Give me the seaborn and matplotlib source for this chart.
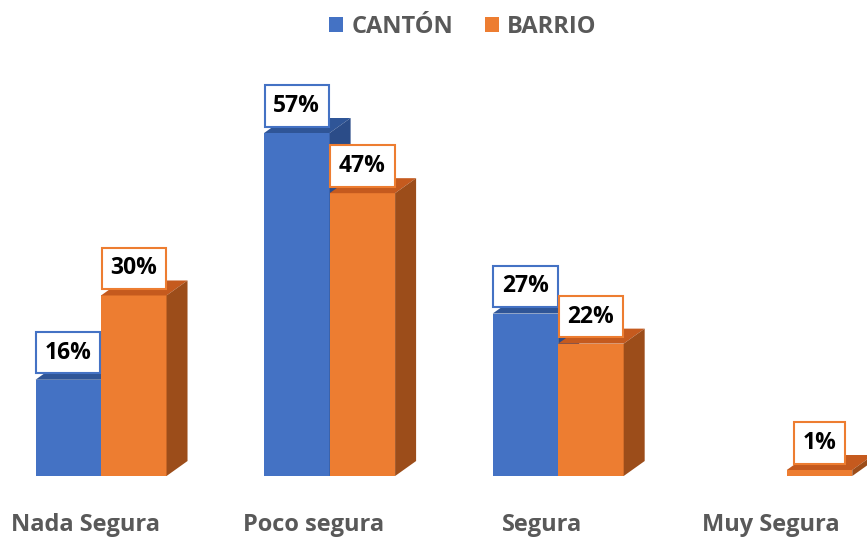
import matplotlib
matplotlib.use("Agg")
import matplotlib.pyplot as plt
import seaborn as sns
import pandas as pd
from matplotlib.patches import Polygon

categories = ["Nada Segura", "Poco segura", "Segura", "Muy Segura"]
canton = [16, 57, 27, 0]
barrio = [30, 47, 22, 1]
series_names = ["CANTÓN", "BARRIO"]

front = {"CANTÓN": "#4472C4", "BARRIO": "#ED7D31"}
top_c = {"CANTÓN": "#2F5597", "BARRIO": "#C55A1E"}
side_c = {"CANTÓN": "#2B4C88", "BARRIO": "#9C4D1A"}

df = pd.DataFrame({
    "cat": categories * 2,
    "val": canton + barrio,
    "serie": [series_names[0]] * 4 + [series_names[1]] * 4,
})

sns.set_theme(style="white")
plt.rcParams["font.family"] = ["Open Sans", "DejaVu Sans"]

fig = plt.figure(figsize=(8.67, 5.38), dpi=100)
ax = fig.add_axes([0, 0, 1, 1])
sns.barplot(data=df, x="cat", y="val", hue="serie", palette=front,
            saturation=1, width=0.573, ax=ax, errorbar=None, linewidth=0)

ax.set_xlim(-0.442, 3.351)
ax.set_ylim(-10.3, 79.1)

dx = 21 / 228.6
dy = 15 / 6.02

for ci, (cont, name) in enumerate(zip(ax.containers, series_names)):
    for p in cont.patches:
        h = p.get_height()
        x0 = p.get_x()
        w = p.get_width()
        p.set_zorder(2 + ci)
        if h <= 0:
            continue
        topp = Polygon([(x0, h), (x0 + w, h), (x0 + w + dx, h + dy), (x0 + dx, h + dy)],
                       closed=True, facecolor=top_c[name], edgecolor="none", zorder=2 + ci)
        sidep = Polygon([(x0 + w, 0), (x0 + w + dx, dy), (x0 + w + dx, h + dy), (x0 + w, h)],
                        closed=True, facecolor=side_c[name], edgecolor="none", zorder=2 + ci)
        ax.add_patch(topp)
        ax.add_patch(sidep)
        ax.annotate(f"{h:.0f}%", (x0 + w / 2, h), xytext=(0, 19.5), textcoords="offset points",
                    ha="center", va="center", fontsize=16.5, fontweight="bold", color="black",
                    zorder=10,
                    bbox=dict(boxstyle="square,pad=0.38", facecolor="white",
                              edgecolor=front[name], linewidth=1.5))

for i, c in enumerate(categories):
    ax.text(i - 0.07, -8.14, c, ha="center", va="center", fontsize=17,
            fontweight="bold", color="#595959")

ax.axis("off")

sns.move_legend(ax, "center", bbox_to_anchor=(0.534, 1 - 27 / 538), ncol=2,
                frameon=False, title=None, fontsize=17, handlelength=0.6,
                handleheight=0.6, handletextpad=0.34, columnspacing=1.35)
for t in ax.get_legend().get_texts():
    t.set_color("#595959")
    t.set_fontweight("bold")

fig.savefig("out.png", dpi=100)
